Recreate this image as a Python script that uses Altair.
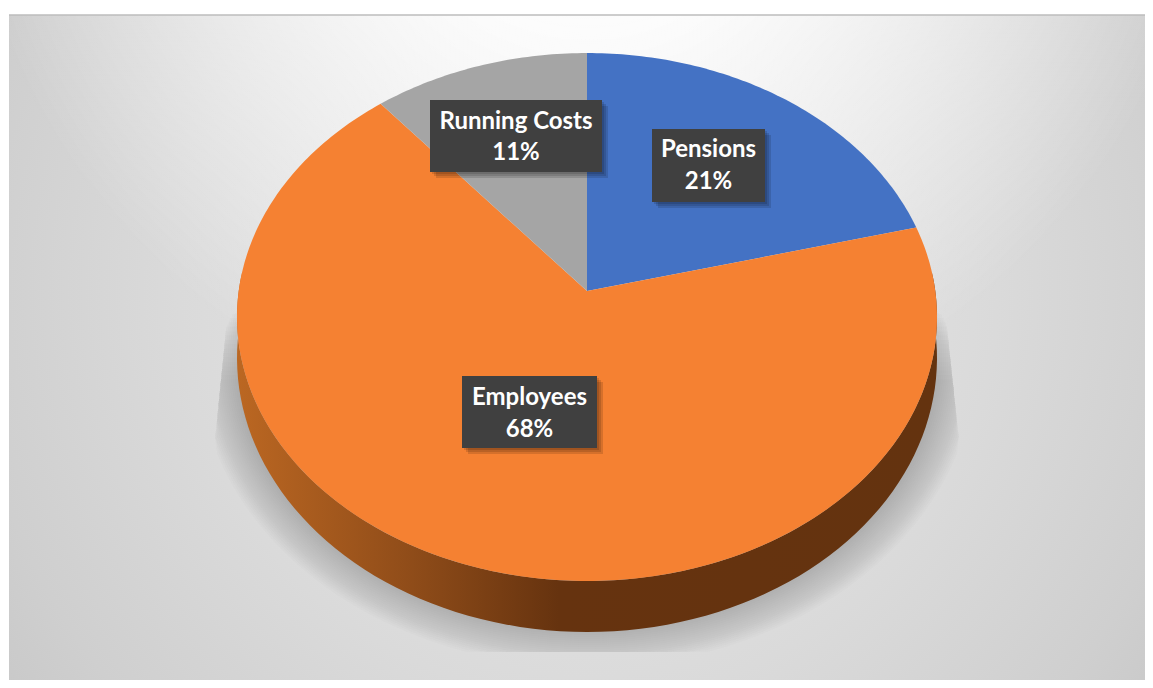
import math
import altair as alt

CATEGORIES = ["Pensions", "Employees", "Running Costs"]
SHARES = [21, 68, 11]
PERCENT_LABELS = ["21%", "68%", "11%"]
SLICE_COLORS = ["#4472C4", "#F58132", "#A5A5A5"]

BOX_LEFT = [652, 462, 430]
BOX_RIGHT = [765, 597, 602]
BOX_TOP = [129, 376, 100]
BOX_BOTTOM = [202, 448, 172]
NAME_Y = [150, 398, 122]
PCT_Y = [182, 430, 153]

CX, APEX_Y, A, B, K = 587, 291, 261.4, 348.3, 0.0985
DEPTH = 51
OFFSET = 8


def rim(t):
    u, s = math.sin(t), -math.cos(t)
    w = 1 - K * s
    return (CX + B * u / w, APEX_Y + A * s / w)


def feature(name, points):
    ring = [[round(x, 2), round(y, 2)] for x, y in points]
    ring.append(ring[0])
    return {"type": "Feature", "properties": {"name": name},
            "geometry": {"type": "Polygon", "coordinates": [ring]}}


slices = []
start = 0.0
for name, share in zip(CATEGORIES, SHARES):
    end = start + share / 100
    n = max(4, int(share * 4))
    pts = [(CX, APEX_Y)] + [rim(2 * math.pi * (start + (end - start) * i / n)) for i in range(n + 1)]
    slices.append(feature(name, pts))
    start = end

# visible side wall: the front half of the rim and the same rim lowered
top_pts = [rim(math.radians(d)) for d in range(86, 276, 2)]
side_pts = top_pts + [(x, y + DEPTH * (0.80 + 0.20 * max(0.0, (y - 317) / 264)))
                      for x, y in reversed(top_pts)]
side = [feature("side", side_pts)]


def shadow_ring(grow):
    pts = []
    top = 285 + grow * 2.2
    for d in range(0, 360, 3):
        t = math.radians(d)
        x = CX + (346 + grow) * math.sin(t)
        y = 358 - (266 + grow) * math.cos(t)
        y = min(max(y, top), 652)
        left = 230 - (y - 290) * 16 / 160
        right = 943 + (y - 290) * 17 / 160
        pts.append((min(max(x, left), right), y))
    return pts


shadows = [feature(f"s{g}", shadow_ring(g)) for g in range(1, 44, 2)]

identity = dict(type="identity", scale=1, translate=[-OFFSET, -OFFSET])
labels = [
    {"name": c, "pct": p, "x": (l + r) / 2 - OFFSET, "l": l - OFFSET, "r": r - OFFSET,
     "t": t - OFFSET, "b": b - OFFSET, "ny": ny - OFFSET, "py": py - OFFSET}
    for c, p, l, r, t, b, ny, py in zip(CATEGORIES, PERCENT_LABELS, BOX_LEFT, BOX_RIGHT,
                                         BOX_TOP, BOX_BOTTOM, NAME_Y, PCT_Y)
]
px = lambda f: alt.X(f, type="quantitative", scale=None, axis=None)
py = lambda f: alt.Y(f, type="quantitative", scale=None, axis=None)

panel_data = alt.Data(values=[{"l": 1, "r": 1137, "t": 7, "b": 672}])
panel = alt.Chart(panel_data).mark_rect(
    fill=alt.RadialGradient(
        gradient="radial", x1=0.51, y1=0.45, r1=0.0, x2=0.51, y2=0.45, r2=0.8,
        stops=[alt.GradientStop(offset=0, color="#ececec"),
               alt.GradientStop(offset=0.45, color="#dadada"),
               alt.GradientStop(offset=0.68, color="#cfcfcf"),
               alt.GradientStop(offset=1, color="#bbbbbb")])
).encode(x=px("l"), x2=alt.X2("r"), y=py("t"), y2=alt.Y2("b"))

glow = alt.Chart(panel_data).mark_rect(
    fill=alt.RadialGradient(
        gradient="radial", x1=0.51, y1=0.03, r1=0.0, x2=0.51, y2=0.03, r2=0.55,
        stops=[alt.GradientStop(offset=0, color="rgba(255,255,255,1)"),
               alt.GradientStop(offset=0.35, color="rgba(255,255,255,0.9)"),
               alt.GradientStop(offset=1, color="rgba(255,255,255,0)")])
).encode(x=px("l"), x2=alt.X2("r"), y=py("t"), y2=alt.Y2("b"))

top_line = alt.Chart(alt.Data(values=[{"l": 1, "r": 1137, "t": 7}])).mark_rule(
    color="#bdbdbd", strokeWidth=1.5
).encode(x=px("l"), x2=alt.X2("r"), y=py("t"))

shadow_layer = alt.Chart(alt.Data(values=shadows)).mark_geoshape(
    fill="#84878b", fillOpacity=0.036, strokeWidth=0
).project(**identity)

side_layer = alt.Chart(alt.Data(values=side)).mark_geoshape(
    strokeWidth=0,
    fill=alt.LinearGradient(
        gradient="linear", x1=0, y1=0, x2=1, y2=0,
        stops=[alt.GradientStop(offset=0, color="#bb6722"),
               alt.GradientStop(offset=0.25, color="#8f4c19"),
               alt.GradientStop(offset=0.46, color="#66330f"),
               alt.GradientStop(offset=1, color="#64330f")])
).project(**identity)

slice_layer = alt.Chart(alt.Data(values=slices)).mark_geoshape(
    strokeWidth=0
).encode(
    color=alt.Color("properties.name:N", legend=None,
                    scale=alt.Scale(domain=CATEGORIES, range=SLICE_COLORS))
).project(**identity)

label_data = alt.Data(values=labels)


def box_shadow(offset):
    return alt.Chart(label_data).transform_calculate(
        l2=f"datum.l+{offset}", r2=f"datum.r+{offset}",
        t2=f"datum.t+{offset}", b2=f"datum.b+{offset}"
    ).mark_rect(color="#000000", opacity=0.13).encode(
        x=px("l2"), x2=alt.X2("r2"), y=py("t2"), y2=alt.Y2("b2"))


box = alt.Chart(label_data).mark_rect(color="#404040").encode(
    x=px("l"), x2=alt.X2("r"), y=py("t"), y2=alt.Y2("b"))
name_text = alt.Chart(label_data).mark_text(
    font="Lato", fontSize=24, fontWeight="bold", color="#ffffff", align="center", baseline="middle"
).encode(x=px("x"), y=py("ny"), text="name:N")
pct_text = alt.Chart(label_data).mark_text(
    font="Lato", fontSize=24, fontWeight="bold", color="#ffffff", align="center", baseline="middle"
).encode(x=px("x"), y=py("py"), text="pct:N")

chart = alt.layer(panel, glow, top_line, shadow_layer, side_layer, slice_layer,
                  box_shadow(6), box_shadow(4), box_shadow(2),
                  box, name_text, pct_text).properties(
    width=1137, height=672, padding=0,
    autosize=alt.AutoSizeParams(type="none"),
    background="#ffffff",
).configure_view(stroke=None)

chart.save("out.html", embed_options={"renderer": "svg", "actions": False})
